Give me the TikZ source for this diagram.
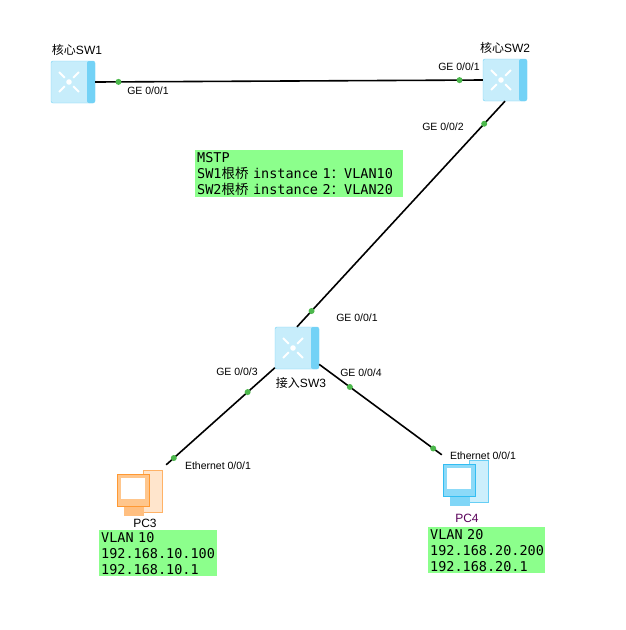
\documentclass[tikz,border=0pt]{standalone}
\usepackage{fontspec}
\setmainfont{Liberation Sans}
\newfontfamily\cjk{Noto Sans CJK SC}
\newfontfamily\boxmono{DejaVu Sans Mono}
\begin{document}
\begin{tikzpicture}[x=1pt,y=-1pt,
  switch/.style={draw=cyan!55, fill=cyan!22, minimum width=44pt, minimum height=42pt, rounded corners=2pt,
    path picture={
      \fill[cyan!55] ([xshift=-8pt]path picture bounding box.north east) rectangle (path picture bounding box.south east);
      \fill[white] ([xshift=-4pt]path picture bounding box.center) circle (2.8pt);
      \foreach \a in {45,135,225,315}
        \draw[white, line width=2pt] ([xshift=-4pt]path picture bounding box.center) ++(\a:6pt) -- ++(\a:8pt);}},
  pc/.style={minimum width=50pt, minimum height=54pt,
    path picture={
      \coordinate (c) at (path picture bounding box.center);
      \fill[#1!20, draw=#1!60] ([shift={(2pt,22pt)}]c) rectangle ([shift={(21pt,-20pt)}]c);
      \fill[#1!50] ([shift={(-17pt,-14pt)}]c) rectangle ([shift={(3pt,-24pt)}]c);
      \fill[#1!45, draw=#1!80] ([shift={(-24pt,18pt)}]c) rectangle ([shift={(8pt,-14pt)}]c);
      \fill[white] ([shift={(-20pt,14pt)}]c) rectangle ([shift={(4pt,-7pt)}]c);}},
  dot/.style={circle, fill=green!60!black!70, inner sep=0pt, minimum size=6pt},
  port/.style={font=\fontsize{10.5}{12}\selectfont, inner sep=1pt},
  devname/.style={font=\fontsize{12}{14}\selectfont, inner sep=1pt},
  note/.style={fill=green!45!white, font=\boxmono\fontsize{13.5}{16}\selectfont, align=left, inner sep=2pt, anchor=north west},
  link/.style={line width=1.6pt}]
\useasboundingbox (0,0) rectangle (626,630);

% Devices
\node[switch] (sw1) at (73,82) {};
\node[switch] (sw2) at (505,80) {};
\node[switch] (sw3) at (297,348) {};
\node[pc=orange] (pc3) at (141,492) {};
\node[pc=cyan] (pc4) at (467,482) {};

% Names
\node[devname] (sw1name) at (77,50) {{\cjk 核心}SW1};
\node[devname] (sw2name) at (505,48) {{\cjk 核心}SW2};
\node[devname] (sw3name) at (301,383) {{\cjk 接入}SW3};
\node[devname] (pc3name) at (145,523) {PC3};
\node[devname, text=violet!70!black] (pc4name) at (467,518) {PC4};

% Links
\draw[link] (sw1.east) -- node[dot, pos=0.06] (p11) {} node[dot, pos=0.94] (p21) {} (sw2.west);
\draw[link] (sw2.south) -- node[dot, pos=0.1] (p22) {} node[dot, pos=0.93] (p31) {} (sw3.north);
\draw[link] (sw3) -- node[dot, pos=0.25] (p33) {} node[dot, pos=0.93] (p3e) {} (pc3.north east);
\draw[link] (sw3) -- node[dot, pos=0.25] (p34) {} node[dot, pos=0.93] (p4e) {} (pc4.north west);

% Port labels
\node[port] at (148,91) {GE 0/0/1};
\node[port] at (459,67) {GE 0/0/1};
\node[port] at (443,127) {GE 0/0/2};
\node[port] at (357,318) {GE 0/0/1};
\node[port] at (237,372) {GE 0/0/3};
\node[port] at (361,373) {GE 0/0/4};
\node[port] at (218,466) {Ethernet 0/0/1};
\node[port] at (483,456) {Ethernet 0/0/1};

% Notes
\node[note, text width=204pt] (mstp) at (195,150) {MSTP\\SW1{\cjk 根桥} instance 1{\cjk ：}VLAN10\\SW2{\cjk 根桥} instance 2{\cjk ：}VLAN20};
\node[note, text width=114pt] (vlan10) at (99,530) {VLAN 10\\192.168.10.100\\192.168.10.1};
\node[note, text width=113pt] (vlan20) at (428,527) {VLAN 20\\192.168.20.200\\192.168.20.1};
\end{tikzpicture}
\end{document}
